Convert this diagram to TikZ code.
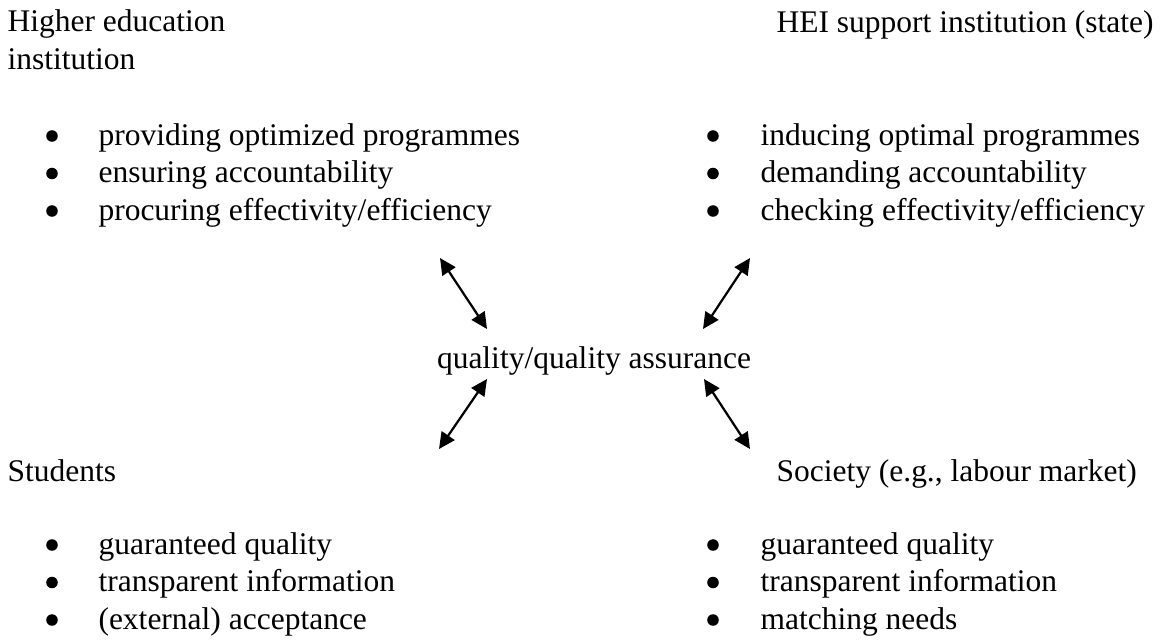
\documentclass[tikz,border=0pt]{standalone}
\usepackage{fontspec}
\setmainfont{Liberation Serif}
\usetikzlibrary{arrows.meta,positioning}

\tikzset{
  txt/.style={inner sep=0pt, anchor=base west, font=\fontsize{12}{14.2}\selectfont},
  dot/.style={circle, fill=black, inner sep=0pt, minimum size=4.4pt},
  link/.style={line width=0.85pt, {Triangle[length=6.2pt,width=5.9pt]}-{Triangle[length=6.2pt,width=5.9pt]}}
}

\begin{document}
\begin{tikzpicture}[x=0.381pt, y=-0.381pt]
\useasboundingbox (0,0) rectangle (1165,641);
%\draw[help lines, step=50] (0,0) grid (1165,641);

% headings
\node[txt, align=left] (hei) at (7,69) {Higher education\\institution};
\node[txt] (sup) at (776,32) {HEI support institution (state)};
\node[txt] (stu) at (7,481) {Students};
\node[txt] (soc) at (776,481) {Society (e.g., labour market)};

\node[txt, anchor=base] (qa) at (594,368) {quality/quality assurance};

% bullet lists
\foreach \t [count=\i] in {providing optimized programmes, ensuring accountability, procuring effectivity/efficiency} {
  \node[dot] (heib\i) at (52,{136+37.5*(\i-1)}) {};
  \node[txt] (heit\i) at (98,{145+37.5*(\i-1)}) {\t};
}
\foreach \t [count=\i] in {inducing optimal programmes, demanding accountability, checking effectivity/efficiency} {
  \node[dot] (supb\i) at (713,{136+37.5*(\i-1)}) {};
  \node[txt] (supt\i) at (760,{145+37.5*(\i-1)}) {\t};
}
\foreach \t [count=\i] in {guaranteed quality, transparent information, {(external) acceptance}} {
  \node[dot] (stub\i) at (52,{545+37.5*(\i-1)}) {};
  \node[txt] (stut\i) at (98,{554+37.5*(\i-1)}) {\t};
}
\foreach \t [count=\i] in {guaranteed quality, transparent information, matching needs} {
  \node[dot] (socb\i) at (713,{545+37.5*(\i-1)}) {};
  \node[txt] (soct\i) at (760,{554+37.5*(\i-1)}) {\t};
}

% arrows
\coordinate (hei-a) at (440,258);
\coordinate (hei-b) at (487,329);
\coordinate (sup-a) at (750,258);
\coordinate (sup-b) at (703,329);
\coordinate (stu-a) at (487,379);
\coordinate (stu-b) at (439,449);
\coordinate (soc-a) at (704,379);
\coordinate (soc-b) at (750,449);

\draw[link] (hei-a) -- (hei-b);
\draw[link] (sup-a) -- (sup-b);
\draw[link] (stu-a) -- (stu-b);
\draw[link] (soc-a) -- (soc-b);

\end{tikzpicture}
\end{document}
